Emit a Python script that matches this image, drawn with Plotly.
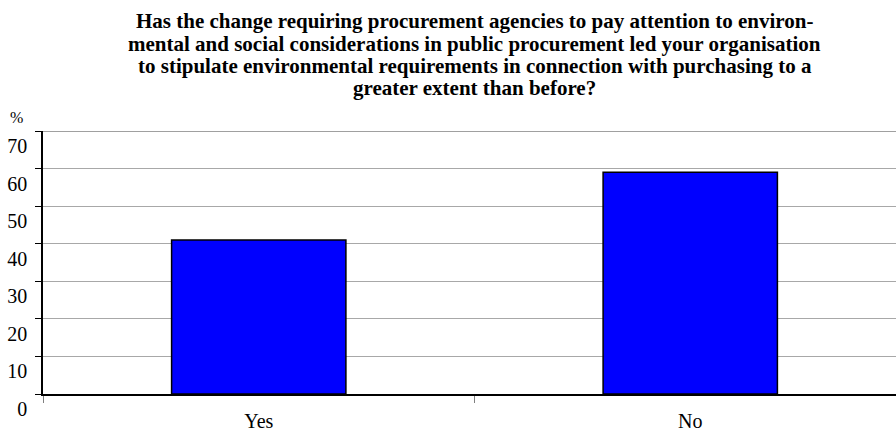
import plotly.graph_objects as go

categories = ["Yes", "No"]
values = [41, 59]
y_ticks = [0, 10, 20, 30, 40, 50, 60, 70]

title_lines = [
    "Has the change requiring procurement agencies to pay attention to environ-",
    "mental and social considerations in public procurement led your organisation",
    "to stipulate environmental requirements in connection with purchasing to a",
    "greater extent than before?",
]

FONT = "Liberation Serif, Times New Roman, serif"

fig = go.Figure()
fig.add_trace(go.Bar(
    x=categories, y=values, width=0.404,
    marker=dict(color="#0000FF", line=dict(color="black", width=1.5)),
    hoverinfo="skip",
))

W, H = 896, 448
L, R, T, B = 43, 0, 131, 54
PW, PH = W - L - R, H - T - B

annotations = []
line_centers = [21, 43.5, 66, 88.5]
for txt, yc in zip(title_lines, line_centers):
    annotations.append(dict(
        text="<b>" + txt + "</b>", xref="paper", yref="paper",
        x=(475 - L) / PW, y=1 + (T - yc) / PH,
        xanchor="center", yanchor="middle", showarrow=False,
        font=dict(family=FONT, size=21, color="black")))
annotations.append(dict(
    text="%", xref="paper", yref="paper",
    x=-(L - 16) / PW, y=1 + (T - 118) / PH,
    xanchor="center", yanchor="middle", showarrow=False,
    font=dict(family=FONT, size=16, color="black")))

fig.update_layout(
    width=W, height=H,
    margin=dict(l=L, r=R, t=T, b=B, pad=0),
    paper_bgcolor="white", plot_bgcolor="white",
    showlegend=False,
    font=dict(family=FONT, color="black", size=20),
    annotations=annotations,
    shapes=[dict(type="line", xref="paper", yref="y", x0=0, x1=1, y0=70, y1=70,
                 line=dict(color="#808080", width=1.5), layer="below")],
)

fig.update_xaxes(
    type="category", range=[-0.5, -0.5 + PW / 431.5],
    tickson="boundaries", ticks="outside", ticklen=7, tickcolor="#808080", tickwidth=1,
    showgrid=False, showline=True, linecolor="black", linewidth=2,
    tickfont=dict(family=FONT, size=20, color="black"),
    ticklabelstandoff=8,
)
fig.update_yaxes(
    range=[0, 70], tickvals=y_ticks, ticktext=[str(v) for v in y_ticks],
    showgrid=True, gridcolor="#a8a8a8", gridwidth=1,
    showline=True, linecolor="black", linewidth=1.5,
    ticks="outside", ticklen=6, tickcolor="black",
    zeroline=False,
    tickfont=dict(family=FONT, size=20, color="black"),
    ticklabelshift=15, ticklabelstandoff=4,
)

fig.write_html("out.html", config={"displayModeBar": False},
               post_script="document.body.style.margin='0px';")
